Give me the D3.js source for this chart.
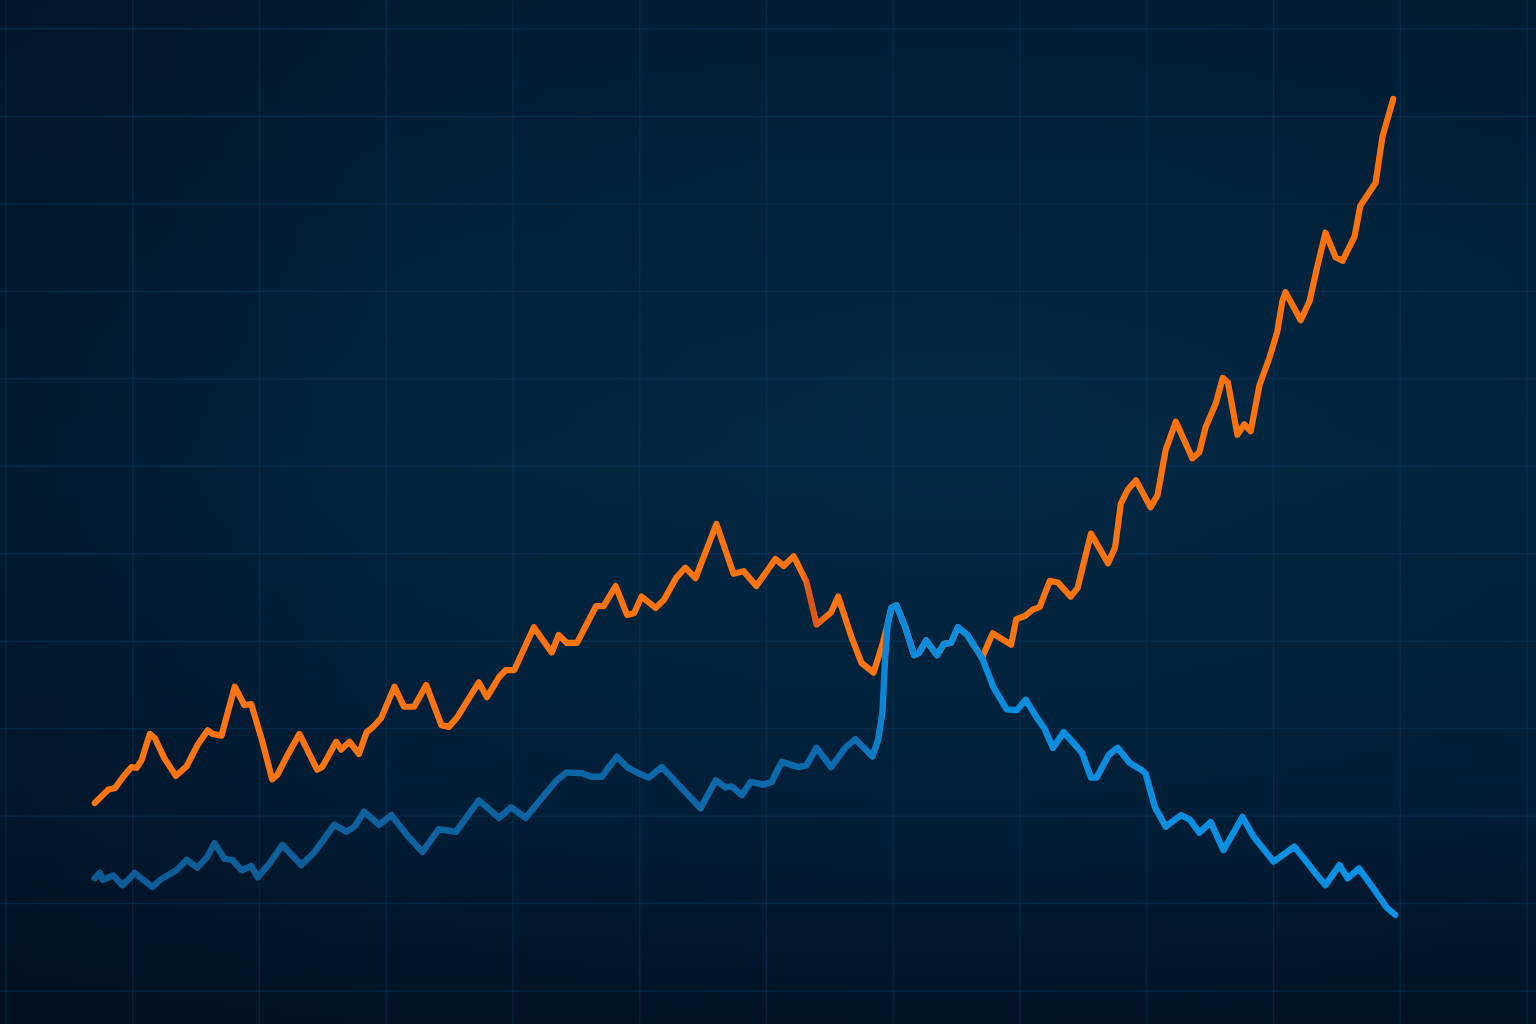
<!DOCTYPE html>
<html>
<head>
<meta charset="utf-8">
<script src="https://cdn.jsdelivr.net/npm/d3@7"></script>
<style>
    html, body { margin: 0; padding: 0; background: #02203a; overflow: hidden; }
    #chart { width: 1536px; height: 1024px; }
</style>
</head>
<body>
<div id="chart"></div>
<script>
// ===== DATA =====
// x in "days" (grid every 20), y in value units (grid every 10)
const orangeLeftT = [14.0, 16.1, 17.2, 18.4, 19.8, 20.6, 21.4, 22.7, 23.5, 25.0, 26.8, 28.5, 30.2, 31.8, 32.6, 34.0,
    36.1, 37.6, 38.7, 40.5, 42.0, 42.8, 44.3, 46.3, 49.1, 49.9, 52.1, 52.9, 54.2, 55.7, 56.9, 57.8, 59.2, 61.3,
    62.8, 64.4, 66.3, 68.7, 69.9, 71.2, 74.6, 75.9, 77.8, 78.9, 80.2, 83.3, 86.1, 87.2, 88.5, 90.1, 93.1, 94.3,
    96.2, 98.0, 99.1, 100.3, 102.5, 103.8, 105.8, 107.2, 108.8, 112.1, 114.8, 116.4, 118.4, 121.4, 122.7, 124.3,
    126.3, 127.9, 130.2, 131.3, 133.4, 135.0, 136.9, 138.4];
const orangeLeftV = [21.5, 23.0, 23.2, 24.4, 25.6, 25.5, 26.4, 29.4, 28.9, 26.6, 24.6, 25.7, 28.1, 29.8, 29.4, 29.2,
    34.8, 32.7, 32.8, 28.4, 24.2, 24.7, 26.8, 29.4, 25.3, 25.6, 28.5, 27.6, 28.5, 27.1, 29.6, 30.1, 31.2, 34.8,
    32.5, 32.5, 35.0, 30.4, 30.2, 31.3, 35.3, 33.6, 35.9, 36.7, 36.7, 41.6, 38.7, 40.7, 39.8, 39.8, 44.0, 44.0,
    46.3, 43.0, 43.2, 45.1, 43.8, 44.7, 47.3, 48.4, 47.2, 53.4, 47.7, 48.0, 46.3, 49.4, 48.6, 49.7,
    46.8, 41.9, 43.3, 45.1, 40.5, 37.5, 36.4, 39.9];

// stretch where both series run together (drawn blue)
const sharedT = [139.1, 139.7, 140.5, 141.9, 143.3, 144.1, 145.2, 146.9, 148.0, 149.1, 150.2, 151.7, 154.0];
const sharedV = [41.9, 43.8, 44.1, 41.6, 38.4, 38.7, 40.1, 38.4, 39.7, 39.8, 41.6, 40.7, 38.1];

const orangeRightT = [155.7, 158.6, 159.4, 160.8, 162.0, 163.1, 164.7, 166.0, 168.0, 169.1, 171.2, 173.9, 175.0,
    175.9, 177.0, 178.3, 180.6, 181.7, 183.0, 184.6, 187.2, 188.3, 189.3, 190.9, 192.0, 192.8, 194.3, 195.4,
    196.4, 197.8, 199.4, 200.6, 201.4, 201.9, 204.3, 205.7, 206.9, 208.2, 209.8, 210.9, 212.8, 213.7, 215.1,
    216.1, 217.2, 218.9];
const orangeRightV = [40.9, 39.6, 42.5, 42.9, 43.6, 43.9, 46.9, 46.7, 45.1, 46.1, 52.3, 48.9, 50.7,
    55.7, 57.3, 58.4, 55.3, 56.7, 61.9, 65.1, 60.9, 61.6, 64.5, 67.2, 70.1, 69.6, 63.6, 64.8,
    64.0, 69.3, 72.5, 75.4, 78.9, 79.9, 76.7, 78.9, 82.8, 86.7, 83.9, 83.5, 86.3, 89.8, 91.3,
    92.4, 97.7, 102.0];

const blueLeftT = [14.0, 14.8, 15.3, 16.9, 18.4, 20.3, 23.1, 24.7, 26.9, 28.5, 30.2, 31.7, 32.9, 34.5, 35.7, 37.2,
    38.7, 39.7, 41.6, 43.6, 46.6, 48.7, 51.8, 53.7, 55.0, 56.5, 58.9, 60.8, 63.3, 65.7, 68.3, 71.0, 74.6, 77.8,
    79.7, 82.0, 84.6, 86.9, 88.5, 90.9, 92.4, 94.0, 96.4, 98.0, 99.8, 101.4, 103.5, 106.1, 109.6, 112.0, 113.5,
    114.5, 116.1, 117.5, 119.5, 120.8, 122.4, 125.0, 126.3, 127.9, 130.2, 132.4, 134.0, 136.7, 137.6, 138.3, 138.7];
const blueLeftV = [12.9, 13.5, 12.7, 13.2, 12.1, 13.5, 11.9, 12.9, 13.8, 15.0, 14.1, 15.3, 16.9, 15.1, 15.0, 13.8,
    14.3, 13.0, 14.6, 16.7, 14.4, 15.9, 19.0, 18.2, 18.8, 20.5, 19.0, 20.1, 17.8, 15.9, 18.5, 18.2, 21.8, 19.8,
    21.0, 19.8, 22.1, 24.1, 25.0, 24.9, 24.5, 24.5, 26.8, 25.6, 24.9, 24.4, 25.6, 23.6, 20.9, 24.1, 23.3,
    23.4, 22.4, 23.9, 23.6, 23.9, 26.2, 25.6, 25.8, 27.8, 25.6, 27.8, 28.8, 26.8, 28.7, 31.9, 37.8];

const blueRightT = [155.9, 157.9, 159.5, 160.9, 162.7, 163.8, 165.2, 166.9, 169.0, 169.8, 171.2, 172.1, 174.0,
    175.4, 177.3, 179.1, 179.8, 181.3, 183.0, 185.4, 186.8, 188.3, 190.1, 192.1, 195.1, 196.9, 198.9, 200.0,
    200.8, 203.3, 205.4, 206.8, 208.2, 210.4, 211.7, 213.5, 215.7, 217.8, 219.2];
const blueRightV = [34.6, 32.2, 32.1, 33.3, 31.2, 30.1, 27.8, 29.6, 27.9, 27.2, 24.4, 24.4, 27.0,
    27.8, 26.1, 25.3, 24.9, 21.0, 18.8, 20.1, 19.6, 18.1, 19.3, 16.1, 19.9, 17.6, 15.8, 14.8,
    15.2, 16.5, 14.6, 13.3, 12.1, 14.4, 12.9, 14.0, 11.8, 9.6, 8.7];

const xGridTicks = d3.range(0, 241, 20);
const yGridTicks = d3.range(0, 111, 10);

// ===== CHART =====
const Chart = {
    width: 1536,
    height: 1024,
    svg: null,
    x: null,
    y: null,

    init() {
        this.svg = d3.select('#chart').append('svg')
            .attr('width', this.width).attr('height', this.height);
        this.x = d3.scaleLinear().domain([0, 240]).range([6, 1527]);
        this.y = d3.scaleLinear().domain([0, 110]).range([991, 29]);
        this.defs();
        this.background();
        this.grid();
        this.lines();
    },

    defs() {
        const defs = this.svg.append('defs');

        const bg = defs.append('linearGradient').attr('id', 'bg-lin')
            .attr('x1', 0).attr('y1', 0).attr('x2', 0).attr('y2', 1);
        bg.append('stop').attr('offset', '0%').attr('stop-color', '#021b31');
        bg.append('stop').attr('offset', '45%').attr('stop-color', '#02223c');
        bg.append('stop').attr('offset', '80%').attr('stop-color', '#011b33');
        bg.append('stop').attr('offset', '100%').attr('stop-color', '#011225');

        const glow = defs.append('radialGradient').attr('id', 'bg-glow')
            .attr('cx', '62%').attr('cy', '42%').attr('r', '60%');
        glow.append('stop').attr('offset', '0%').attr('stop-color', '#073150').attr('stop-opacity', 0.4);
        glow.append('stop').attr('offset', '100%').attr('stop-color', '#073150').attr('stop-opacity', 0);

        const side = defs.append('linearGradient').attr('id', 'bg-side')
            .attr('x1', 0).attr('y1', 0).attr('x2', 1).attr('y2', 0);
        side.append('stop').attr('offset', '0%').attr('stop-color', '#000d1c').attr('stop-opacity', 0.35);
        side.append('stop').attr('offset', '25%').attr('stop-color', '#000d1c').attr('stop-opacity', 0);
        side.append('stop').attr('offset', '100%').attr('stop-color', '#000d1c').attr('stop-opacity', 0);

        // blue gets brighter after the spike
        const x0 = this.x(blueLeftT[0]), x1 = this.x(blueRightT[blueRightT.length - 1]);
        const blue = defs.append('linearGradient').attr('id', 'blue-grad')
            .attr('gradientUnits', 'userSpaceOnUse')
            .attr('x1', x0).attr('y1', 0).attr('x2', x1).attr('y2', 0);
        const pos = t => ((this.x(t) - x0) / (x1 - x0) * 100) + '%';
        blue.append('stop').attr('offset', '0%').attr('stop-color', '#0e5b94');
        blue.append('stop').attr('offset', pos(134)).attr('stop-color', '#0d6cae');
        blue.append('stop').attr('offset', pos(139.5)).attr('stop-color', '#0b8bdc');
        blue.append('stop').attr('offset', '100%').attr('stop-color', '#0a91e4');

        const orange = defs.append('linearGradient').attr('id', 'orange-grad')
            .attr('gradientUnits', 'userSpaceOnUse')
            .attr('x1', x0).attr('y1', 0).attr('x2', x1).attr('y2', 0);
        orange.append('stop').attr('offset', '0%').attr('stop-color', '#ff740e');
        orange.append('stop').attr('offset', pos(125.5)).attr('stop-color', '#ff740e');
        orange.append('stop').attr('offset', pos(126.8)).attr('stop-color', '#dc5416');
        orange.append('stop').attr('offset', pos(128.2)).attr('stop-color', '#e85e12');
        orange.append('stop').attr('offset', pos(130)).attr('stop-color', '#ff740e');
        orange.append('stop').attr('offset', '100%').attr('stop-color', '#ff720a');
    },

    background() {
        this.svg.append('rect').attr('width', this.width).attr('height', this.height).attr('fill', 'url(#bg-lin)');
        this.svg.append('rect').attr('width', this.width).attr('height', this.height).attr('fill', 'url(#bg-glow)');
        this.svg.append('rect').attr('width', this.width).attr('height', this.height).attr('fill', 'url(#bg-side)');
    },

    grid() {
        const g = this.svg.append('g').attr('class', 'grid')
            .attr('stroke', '#0c3a5f').attr('stroke-opacity', 0.45).attr('stroke-width', 1.4);
        g.selectAll('line.v').data(xGridTicks).join('line').attr('class', 'v')
            .attr('x1', d => this.x(d)).attr('x2', d => this.x(d))
            .attr('y1', 0).attr('y2', this.height);
        g.selectAll('line.h').data(yGridTicks).join('line').attr('class', 'h')
            .attr('y1', d => this.y(d)).attr('y2', d => this.y(d))
            .attr('x1', 0).attr('x2', this.width);
    },

    lines() {
        const zip = (ts, vs) => ts.map((t, i) => ({ t, v: vs[i] }));
        const orange = [].concat(zip(orangeLeftT, orangeLeftV), zip(sharedT, sharedV), zip(orangeRightT, orangeRightV));
        const blue = [].concat(zip(blueLeftT, blueLeftV), zip(sharedT, sharedV), zip(blueRightT, blueRightV));

        const line = d3.line().x(d => this.x(d.t)).y(d => this.y(d.v)).curve(d3.curveLinear);

        this.svg.append('path').datum(orange)
            .attr('d', line).attr('fill', 'none')
            .attr('stroke', 'url(#orange-grad)').attr('stroke-width', 6.2)
            .attr('stroke-linejoin', 'round').attr('stroke-linecap', 'round');

        this.svg.append('path').datum(blue)
            .attr('d', line).attr('fill', 'none')
            .attr('stroke', 'url(#blue-grad)').attr('stroke-width', 6.4)
            .attr('stroke-linejoin', 'round').attr('stroke-linecap', 'round');
    }
};

Chart.init();
</script>
</body>
</html>
